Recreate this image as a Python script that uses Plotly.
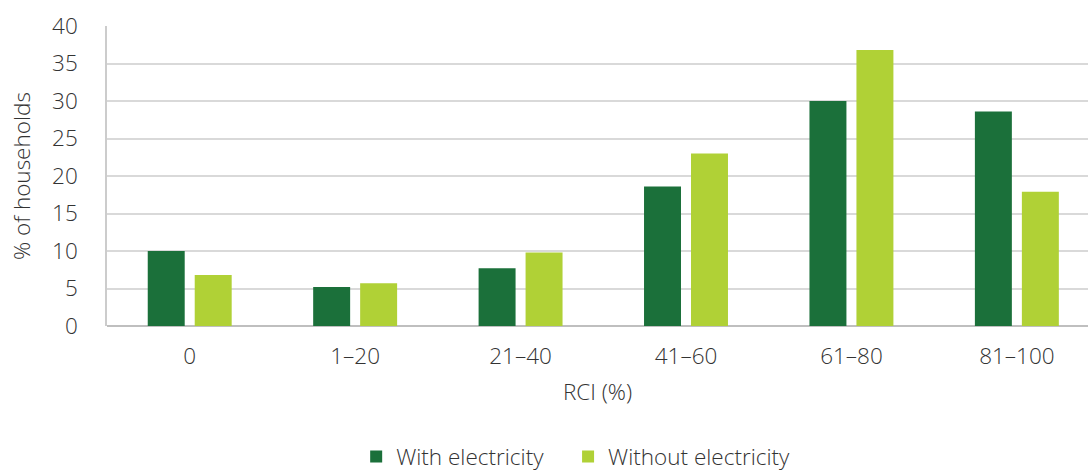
import plotly.graph_objects as go

# RCI bands and share of households in each band
categories = ["0", "1–20", "21–40", "41–60", "61–80", "81–100"]
with_electricity = [10.0, 5.2, 7.7, 18.6, 30.0, 28.6]
without_electricity = [6.8, 5.7, 9.8, 23.0, 36.8, 17.9]
y_ticks = [0, 5, 10, 15, 20, 25, 30, 35, 40]

DARK = "#1b703a"
LIGHT = "#b0d136"
TEXT = "#333333"
FONT = "Open Sans"
SIZE = 22.5

fig = go.Figure()
fig.add_trace(go.Bar(name="With electricity", x=categories, y=with_electricity,
                     marker=dict(color=DARK, line=dict(width=0)), legend="legend"))
fig.add_trace(go.Bar(name="Without electricity", x=categories, y=without_electricity,
                     marker=dict(color=LIGHT, line=dict(width=0)), legend="legend2"))

legend_style = dict(orientation="h", xanchor="left",
                    yref="container", y=0.03, yanchor="middle",
                    font=dict(size=SIZE, color=TEXT, family=FONT, weight=300),
                    itemwidth=30, bgcolor="rgba(0,0,0,0)")

fig.update_layout(
    width=1088, height=471,
    margin=dict(l=107, r=0, t=26, b=145, autoexpand=False),
    paper_bgcolor="white", plot_bgcolor="white",
    barmode="group", bargap=0.432, bargroupgap=0.213,
    font=dict(family=FONT, color=TEXT, size=SIZE, weight=300),
    showlegend=True,
    legend=dict(x=0.254, **legend_style),
    legend2=dict(x=0.470, **legend_style),
)
fig.update_xaxes(
    type="category", range=[-0.5, 5.43], automargin=False,
    showline=False, showgrid=False,
    ticks="outside", ticklen=10, tickcolor="rgba(0,0,0,0)",
    tickfont=dict(size=SIZE, color=TEXT),
    title=dict(text="RCI (%)", standoff=14, font=dict(size=SIZE, color=TEXT)),
)
fig.update_yaxes(
    range=[0, 40], tickvals=y_ticks, automargin=False,
    showgrid=True, gridcolor="#d9d9d9", gridwidth=1.5,
    showline=True, linecolor="#cccccc", linewidth=1.5,
    zeroline=True, zerolinecolor="#bfbfbf", zerolinewidth=1.5,
    ticks="outside", ticklen=23, tickcolor="rgba(0,0,0,0)",
    tickfont=dict(size=SIZE, color=TEXT),
    title=dict(text="% of households", standoff=15, font=dict(size=SIZE, color=TEXT)),
)

fig.write_html("out.html")
